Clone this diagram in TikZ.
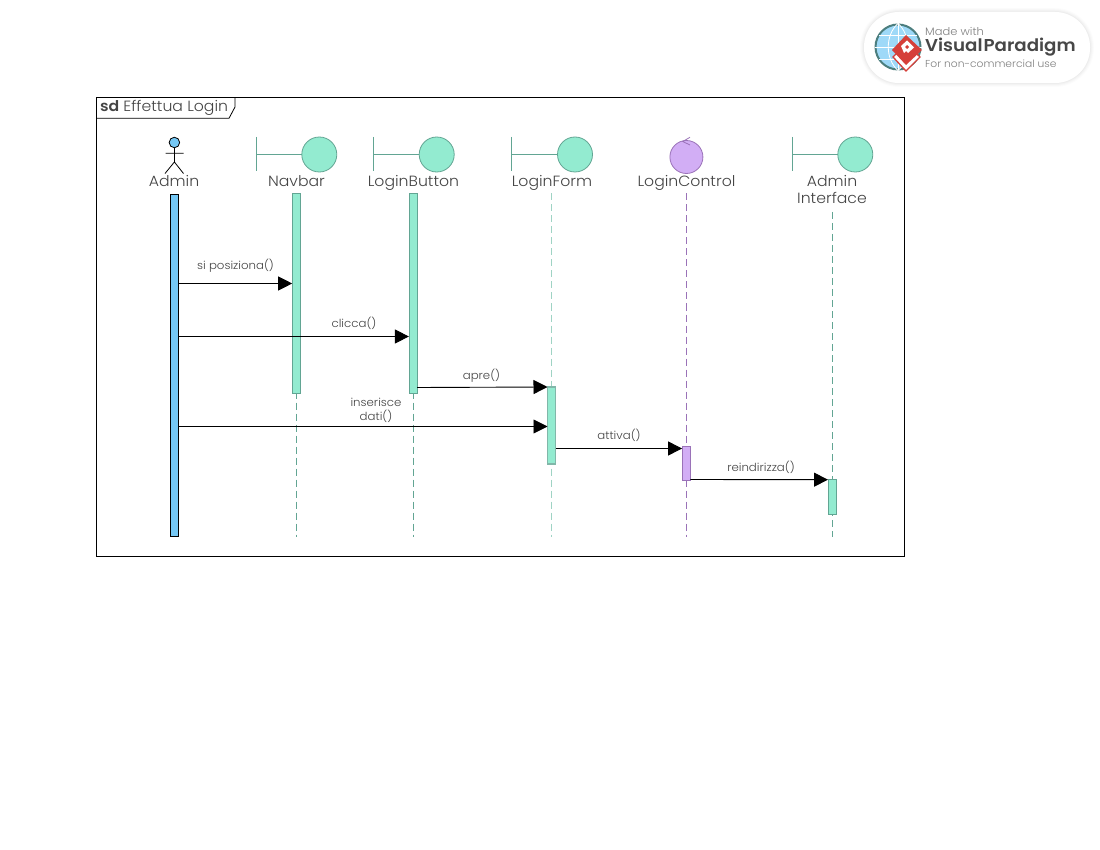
\documentclass[tikz,border=0pt]{standalone}
\usepackage{fontspec}
\setmainfont{Poppins}[UprightFont=* Light,BoldFont=* SemiBold,FakeStretch=1.06]
\usetikzlibrary{arrows.meta,calc}
\definecolor{tealfill}{HTML}{93EBD0}
\definecolor{tealline}{HTML}{62A593}
\definecolor{tealsoft}{HTML}{9FD3C4}
\definecolor{purpfill}{HTML}{D2AEF5}
\definecolor{purpline}{HTML}{9A72B8}
\definecolor{actorblue}{HTML}{75C8F5}
\definecolor{txtgray}{HTML}{444444}
\definecolor{vpred}{HTML}{D5403A}
\tikzset{
  x=1pt,y=-1pt,
  baseT/.style={inner sep=0pt,outer sep=0pt,text=txtgray,align=center},
  lifename/.style={baseT,anchor=base,font=\fontsize{14.8}{18}\selectfont},
  msgtext/.style={baseT,font=\fontsize{11.1}{14}\selectfont},
  msg/.style={draw=black,line width=0.9pt,-{Triangle[length=14pt,width=14pt]},shorten >=0.3pt},
  barbase/.style={rectangle,inner sep=0pt,outer sep=0pt,minimum width=8pt,anchor=north,line width=0.8pt},
  barA/.style={barbase,fill=actorblue,draw=black},
  barT/.style={barbase,fill=tealfill,draw=tealline},
  barP/.style={barbase,fill=purpfill,draw=purpline},
  lifeT/.style={draw=tealline,line width=0.8pt,dash pattern=on 7pt off 4pt},
  lifeP/.style={draw=purpline,line width=0.8pt,dash pattern=on 7pt off 4pt},
  bcircle/.style={circle,inner sep=0pt,outer sep=0pt,minimum size=35pt,fill=tealfill,draw=tealline,line width=0.8pt},
  bstem/.style={draw=tealline,line width=0.8pt},
}
\newcommand{\boundaryicon}[3]{% name, left x, circle x
  \coordinate (#1top) at (#2,137);
  \coordinate (#1bot) at (#2,171);
  \coordinate (#1mid) at (#2,154.5);
  \node[bcircle] (#1circ) at (#3,154.5) {};
  \draw[bstem] (#1top) -- (#1bot);
  \draw[bstem] (#1mid) -- (#1circ);
}
\begin{document}
\begin{tikzpicture}
\useasboundingbox (0,0) rectangle (1100,850);
\fill[white] (0,0) rectangle (1100,850);

% watermark
\foreach \w/\o in {8/0.012,6/0.015,4/0.02,2/0.025}
  \draw[black,opacity=\o,line width=\w pt,rounded corners=35pt] (864,12) rectangle (1090,83);
\node[rectangle,rounded corners=35pt,fill=white,minimum width=226pt,minimum height=71pt,inner sep=0pt] (badge) at (977,47.5) {};
\node[circle,fill=actorblue!70,draw=black!45!teal!70,line width=2pt,minimum size=45pt,inner sep=0pt] (globe) at (898,47) {};
\draw[white,line width=0.8pt] (globe.west) -- (globe.east) (globe.north) -- (globe.south);
\draw[white,line width=0.8pt] (globe.north) .. controls (885,35) and (885,59) .. (globe.south);
\draw[white,line width=0.8pt] (globe.north) .. controls (911,35) and (911,59) .. (globe.south);
\draw[white,line width=0.8pt] (879,35) -- (917,35) (879,59) -- (917,59);
\draw[vpred,line width=1.3pt,fill=white] (893,57) -- (906,71) -- (920,57) -- (906,44) -- cycle;
\fill[vpred] (892,50) -- (906,35) -- (922,50) -- (906,65) -- cycle;
\fill[white] (901,46) -- (907,40.5) -- (914,47.5) -- (908,53) -- (906,51) -- (904,53) -- cycle;
\fill[vpred] (905,47) -- (907,45) -- (909,47) -- (907,49) -- cycle;
\node[inner sep=0pt,anchor=west,text=black!50,font=\fontsize{10.8}{12}\selectfont] (vpA) at (925,31) {Made with};
\node[inner sep=0pt,anchor=west,text=black!72,font=\fontsize{17.2}{20}\selectfont\bfseries] (vpB) at (925,47) {Visual\kern1pt Paradigm};
\node[inner sep=0pt,anchor=west,text=black!50,font=\fontsize{10.1}{12}\selectfont] (vpC) at (925,64) {For non-commercial use};

% frame
\draw[black,line width=0.8pt] (96.5,97.5) rectangle (904.5,556);
\draw[black,line width=0.8pt] (96.5,118.3) -- (229,118.3) -- (235,107) -- (235,97.5);
\node[baseT,anchor=west,font=\fontsize{14.8}{16}\selectfont] (frameTitle) at (100,108.3) {\textbf{sd} Effettua Login};

% lifeline heads
\node[circle,minimum size=10.5pt,inner sep=0pt,outer sep=0pt,fill=actorblue,draw=black,line width=0.8pt] (head) at (174.4,142.5) {};
\coordinate (hip) at (174.4,162);
\coordinate (armL) at (165.5,153.3);
\coordinate (armR) at (183.5,153.3);
\coordinate (legL) at (165,173.5);
\coordinate (legR) at (183.5,173.5);
\draw[black,line width=0.8pt] (head) -- (hip) (armL) -- (armR) (legL) -- (hip) -- (legR);
\boundaryicon{nav}{256.5}{319.3}
\boundaryicon{btn}{373.5}{436.7}
\boundaryicon{frm}{511.7}{575}
\boundaryicon{ifc}{792.5}{855.3}
\node[circle,minimum size=33pt,inner sep=0pt,outer sep=0pt,fill=purpfill,draw=purpline,line width=0.8pt] (ctl) at (686.4,157) {};
\coordinate (ctlA) at (690,137.3);
\coordinate (ctlB) at (682.7,141.5);
\coordinate (ctlC) at (690,145);
\draw[purpline,line width=0.8pt] (ctlA) -- (ctlB) -- (ctlC);

% lifeline names
\node[lifename] (nAdmin) at (174,187) {Admin};
\node[lifename] (nNav) at (296.5,186.5) {Navbar};
\node[lifename] (nBtn) at (413.5,186.5) {LoginButton};
\node[lifename] (nFrm) at (552,186.5) {LoginForm};
\node[lifename] (nCtl) at (686.5,186.5) {LoginControl};
\node[lifename] (nIfcA) at (832,186.5) {Admin};
\node[lifename] (nIfcB) at (832,204) {Interface};

% lifelines
\coordinate (endNav) at (296.5,537);
\coordinate (endBtn) at (413.2,537);
\coordinate (endFrm) at (551.7,537);
\coordinate (endCtl) at (686.4,537);
\coordinate (endIfc) at (832.3,537);
\coordinate (topFrm) at (551.7,193.5);
\coordinate (topCtl) at (686.4,193.5);
\coordinate (topIfc) at (832.3,212);
\coordinate (topNav) at (296.5,193.5);
\coordinate (topBtn) at (413.2,193.5);
\draw[lifeT] (topNav) -- (endNav);
\draw[lifeT] (topBtn) -- (endBtn);
\draw[lifeT,draw=tealsoft,line width=1.2pt] (topFrm) -- (endFrm);
\draw[lifeP] (topCtl) -- (endCtl);
\draw[lifeT] (topIfc) -- (endIfc);

% activation bars
\node[barA,minimum height=342pt] (bAdmin) at (174.4,194) {};
\node[barT,minimum height=200pt] (bNav) at (296.5,193.5) {};
\node[barT,minimum height=200pt] (bBtn) at (413.2,193.5) {};
\node[barT,draw=tealline!80,line width=1.2pt,minimum height=77pt] (bFrm) at (551.8,387) {};
\node[barP,minimum height=33.5pt] (bCtl) at (686.4,446.7) {};
\node[barT,minimum height=35pt] (bIfc) at (832.3,479.7) {};

% messages
\draw[msg] ($(bAdmin.north east)+(0,89.5)$) -- ($(bNav.north west)+(0,90)$);
\draw[msg] ($(bAdmin.north east)+(0,142.5)$) -- ($(bBtn.north west)+(0,143)$);
\draw[msg] ($(bBtn.north east)+(0,194)$) -- (bFrm.north west);
\draw[msg] ($(bAdmin.north east)+(0,232.5)$) -- ($(bFrm.north west)+(0,39.5)$);
\draw[msg] ($(bFrm.north east)+(0,61.5)$) -- ($(bCtl.north west)+(0,1.8)$);
\draw[msg] ($(bCtl.north east)+(0,32.8)$) -- (bIfc.north west);

% message labels
\node[msgtext] (m1) at (235.5,265.5) {si posiziona()};
\node[msgtext] (m2) at (354,323.5) {clicca()};
\node[msgtext] (m3) at (481.5,375.5) {apre()};
\node[msgtext] (m4) at (376,410.5) {inserisce\\dati()};
\node[msgtext] (m5) at (619,435.5) {attiva()};
\node[msgtext] (m6) at (761,467.5) {reindirizza()};
\end{tikzpicture}
\end{document}
